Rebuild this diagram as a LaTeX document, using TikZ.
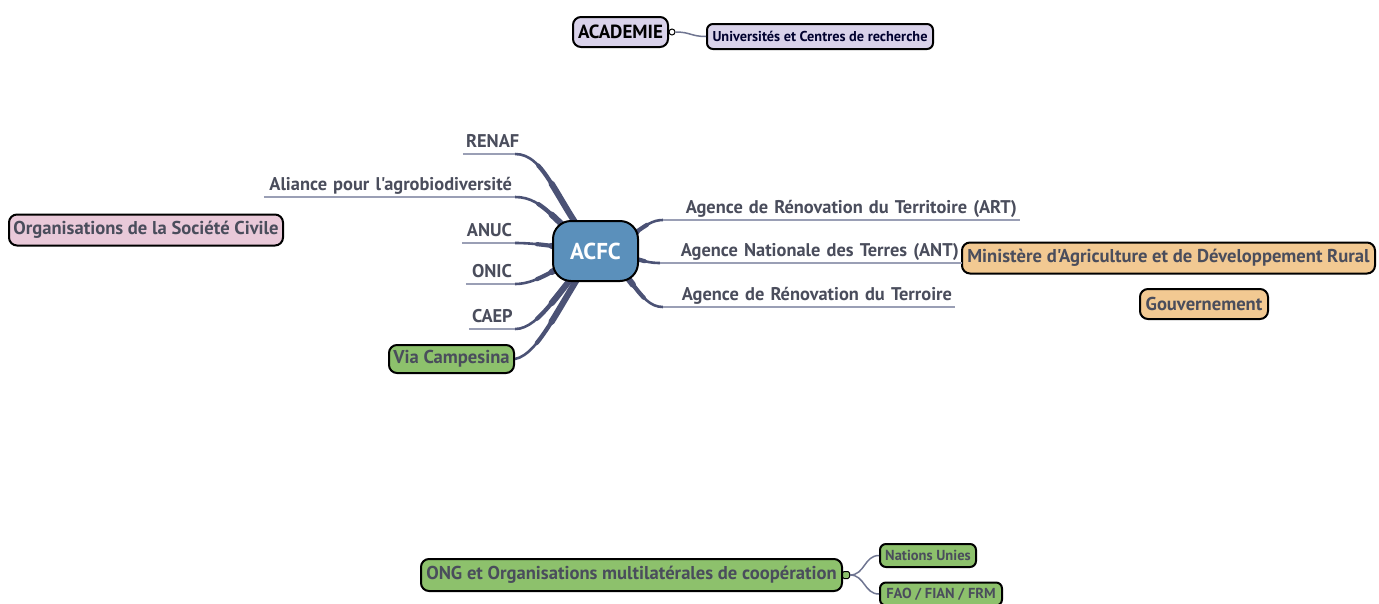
\documentclass[tikz,border=0pt]{standalone}
\usepackage{fontspec}
\setmainfont{PT Sans}[Ligatures=TeXOff]
\usetikzlibrary{calc,backgrounds}
\definecolor{brc}{HTML}{4B5275}
\definecolor{ulc}{HTML}{9A9FB5}
\definecolor{txc}{HTML}{4A4D5C}
\definecolor{lav}{HTML}{D9D2EA}
\definecolor{pink}{HTML}{E9C9D9}
\definecolor{grn}{HTML}{8DC16C}
\definecolor{acfcc}{HTML}{5B90BB}
\definecolor{org}{HTML}{F2C992}
\newcommand{\tsplit}[2]{%
  \coordinate (qa) at ($(q0)!#1!(q1)$);
  \coordinate (qb) at ($(q1)!#1!(q2)$);
  \coordinate (qc) at ($(q2)!#1!(q3)$);
  \coordinate (qd) at ($(qa)!#1!(qb)$);
  \coordinate (qe) at ($(qb)!#1!(qc)$);
  \coordinate (qm) at ($(qd)!#1!(qe)$);
  \draw[branch, line width=#2] (qm) .. controls (qe) and (qc) .. (q3);}
\newcommand{\tbr}[4]{%
  \coordinate (q0) at (#1);
  \coordinate (q1) at (#2);
  \coordinate (q2) at (#3);
  \coordinate (q3) at (#4);
  \draw[branch, line width=2.6pt] (q0) .. controls (q1) and (q2) .. (q3);
  \tsplit{0.3}{4.2pt}
  \tsplit{0.5}{6.2pt}}
\begin{document}
\begin{tikzpicture}[x=1pt,y=-1pt,
  box/.style={draw=black, line width=2pt, rounded corners=8pt, inner sep=0pt, text=txc,
    font=\bfseries\fontsize{18.6}{20}\selectfont},
  smallbox/.style={box, rounded corners=6pt, font=\bfseries\fontsize{14.3}{16}\selectfont},
  lab/.style={inner xsep=3pt, inner ysep=2pt, align=right, text=txc,
    text height=13pt, text depth=4.5pt,
    font=\bfseries\fontsize{18.4}{20}\selectfont},
  under/.style={draw=ulc, line width=2.5pt},
  branch/.style={draw=brc, line cap=round},
  thin/.style={draw=brc!80, line width=1.5pt}]
\useasboundingbox (0,0) rectangle (1379,603);

% Academie
\node[box, fill=lav, text=black, minimum width=95, minimum height=30,
  font=\bfseries\fontsize{19}{21}\selectfont] (acad) at (620.5,32) {ACADEMIE};
\node[draw=black, fill=white, circle, line width=1pt, inner sep=0pt, minimum size=6] (acadk) at (672,32) {};
\node[smallbox, fill=lav, text=black!70!blue!60!black, minimum width=226, minimum height=25] (univ) at (820,36.5) {Universités et Centres de recherche};

% center
\node[box, fill=acfcc, text=white, rounded corners=18pt, minimum width=85, minimum height=60,
  font=\bfseries\fontsize{23}{25}\selectfont] (acfc) at (595.5,251) {ACFC};

% left labels
\node[lab, anchor=south, text width=46] (renaf) at (489,154) {RENAF};
\node[lab, anchor=south, text width=245] (alia) at (389.5,197) {Aliance pour l'agrobiodiversité};
\node[lab, anchor=south, text width=47] (anuc) at (488.5,243) {ANUC};
\node[lab, anchor=south, text width=43] (onic) at (490.5,284) {ONIC};
\node[lab, anchor=south, text width=40] (caep) at (492,329) {CAEP};
\node[box, fill=grn, minimum width=125, minimum height=28] (via) at (451.5,359) {Via Campesina};
\node[box, fill=pink, minimum width=274, minimum height=31] (osc) at (146,230) {Organisations de la Société Civile};

% right labels
\node[lab, anchor=south, text width=351] (art) at (841.5,220) {Agence de Rénovation du Territoire (ART)};
\node[lab, anchor=south, text width=296] (ant) at (811,263) {Agence Nationale des Terres (ANT)};
\node[lab, anchor=south, text width=286] (terr) at (809,307) {Agence de Rénovation du Terroire};
\node[box, fill=org, minimum width=413, minimum height=31] (min) at (1168.5,258) {Ministère d'Agriculture et de Développement Rural};
\node[box, fill=org, minimum width=128, minimum height=30] (gouv) at (1204,304) {Gouvernement};

% bottom
\node[box, fill=grn, minimum width=421, minimum height=32] (ong) at (631.5,575) {ONG et Organisations multilatérales de coopération};
\node[draw=black, fill=grn, rounded corners=1.5pt, line width=1pt, inner sep=0pt, minimum size=7] (ongk) at (846,575) {};
\node[smallbox, fill=grn, minimum width=96, minimum height=23, font=\bfseries\fontsize{14.5}{16}\selectfont] (nu) at (928,555.5) {Nations Unies};
\node[smallbox, fill=grn, minimum width=122, minimum height=23, font=\bfseries\fontsize{14.5}{16}\selectfont] (fao) at (941,594) {FAO / FIAN / FRM};

% underlines
\foreach \n in {renaf,alia,anuc,onic,caep,art,ant,terr}
  \draw[under] (\n.south west) -- (\n.south east);

\begin{scope}[on background layer]
\tbr{renaf.south east}{$(renaf.south east)+(30,0)$}{$(acfc.center)+(-40,-50)$}{acfc.center}
\tbr{alia.south east}{$(alia.south east)+(30,0)$}{$(acfc.center)+(-40,-25)$}{acfc.center}
\tbr{anuc.south east}{$(anuc.south east)+(25,0)$}{$(acfc.center)+(-35,-3)$}{acfc.center}
\tbr{onic.south east}{$(onic.south east)+(25,0)$}{$(acfc.center)+(-35,12)$}{acfc.center}
\tbr{caep.south east}{$(caep.south east)+(25,0)$}{$(acfc.center)+(-35,35)$}{acfc.center}
\tbr{via.east}{$(via.east)+(25,-5)$}{$(acfc.center)+(-35,50)$}{acfc.center}
\tbr{art.south west}{$(art.south west)+(-20,0)$}{$(acfc.center)+(40,-10)$}{acfc.center}
\tbr{ant.south west}{$(ant.south west)+(-20,0)$}{$(acfc.center)+(40,4)$}{acfc.center}
\tbr{terr.south west}{$(terr.south west)+(-25,0)$}{$(acfc.center)+(35,15)$}{acfc.center}
\end{scope}

\draw[thin] (acadk.east) .. controls +(15,0) and ($(univ.west)+(-15,0)$) .. (univ.west);
\draw[thin] (ongk.east) .. controls +(15,0) and ($(nu.west)+(-15,0)$) .. (nu.west);
\draw[thin] (ongk.east) .. controls +(15,0) and ($(fao.west)+(-15,0)$) .. (fao.west);
\end{tikzpicture}
\end{document}
